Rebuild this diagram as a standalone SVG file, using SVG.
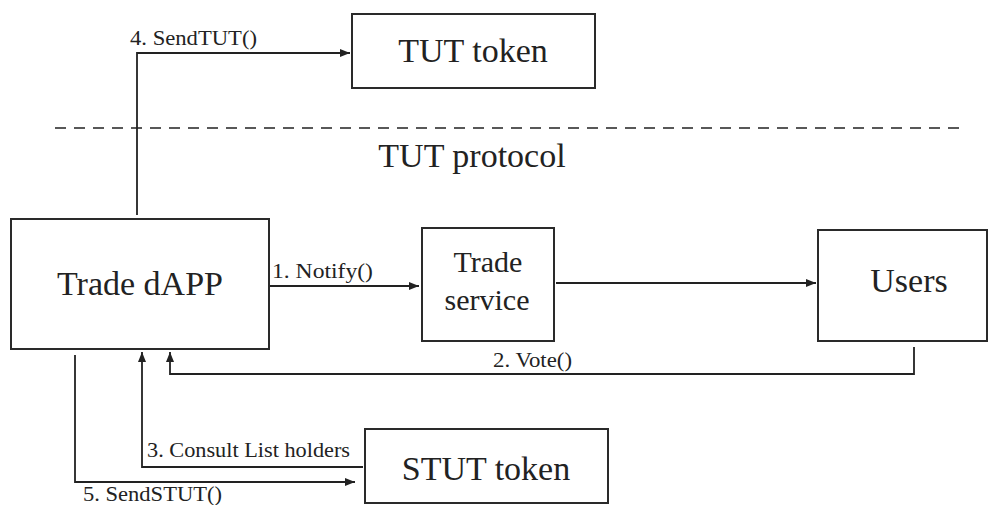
<svg xmlns="http://www.w3.org/2000/svg" width="989" height="505" viewBox="0 0 989 505">
<style>
.box{fill:#fff;stroke:#2a2a2a;stroke-width:2}
text{font-family:'Liberation Serif',serif;fill:#222}
.big{font-size:34px;text-anchor:middle}
.mid{font-size:30px;text-anchor:middle}
.lbl{font-size:21px}
.ln{fill:none;stroke:#222;stroke-width:1.8}
.dash{fill:none;stroke:#222;stroke-width:1.6;stroke-dasharray:11 8}
</style>
<defs>
<marker id="ah" viewBox="0 0 10 8" refX="10" refY="4" markerWidth="10" markerHeight="8" markerUnits="userSpaceOnUse" orient="auto">
<path d="M0,0 L10,4 L0,8 Z" fill="#222"/>
</marker>
</defs>
<rect width="989" height="505" fill="#fff"/>
<line class="dash" x1="55" y1="128" x2="966" y2="128"/>
<text class="big" x="472" y="167">TUT protocol</text>
<g id="tut-token">
<rect class="box" x="352" y="14" width="243" height="74"/>
<text class="big" x="473" y="62">TUT token</text>
</g>
<g id="trade-dapp">
<rect class="box" x="11" y="219" width="258" height="130"/>
<text class="big" x="140" y="295">Trade dAPP</text>
</g>
<g id="trade-service">
<rect class="box" x="422" y="228" width="132" height="113"/>
<text class="mid" x="488" y="272">Trade</text>
<text class="mid" x="487" y="310">service</text>
</g>
<g id="users">
<rect class="box" x="818" y="230" width="169" height="111"/>
<text class="big" x="909" y="292">Users</text>
</g>
<g id="stut-token">
<rect class="box" x="365" y="429" width="243" height="74"/>
<text class="big" x="486" y="480">STUT token</text>
</g>
<g id="connectors">
<path class="ln" d="M137,215 V53 H350" marker-end="url(#ah)"/>
<text class="lbl" x="130" y="45" textLength="127" lengthAdjust="spacingAndGlyphs">4. SendTUT()</text>
<path class="ln" d="M270,286 H419" marker-end="url(#ah)"/>
<text class="lbl" x="272" y="278" textLength="101" lengthAdjust="spacingAndGlyphs">1. Notify()</text>
<path class="ln" d="M556,283 H816" marker-end="url(#ah)"/>
<path class="ln" d="M914,347 V374 H170 V352" marker-end="url(#ah)"/>
<text class="lbl" x="493" y="367" textLength="79" lengthAdjust="spacingAndGlyphs">2. Vote()</text>
<path class="ln" d="M363,467 H142 V352" marker-end="url(#ah)"/>
<text class="lbl" x="147" y="457" textLength="203" lengthAdjust="spacingAndGlyphs">3. Consult List holders</text>
<path class="ln" d="M75,355 V482 H355" marker-end="url(#ah)"/>
<text class="lbl" x="83" y="501" textLength="139" lengthAdjust="spacingAndGlyphs">5. SendSTUT()</text>
</g>
</svg>
